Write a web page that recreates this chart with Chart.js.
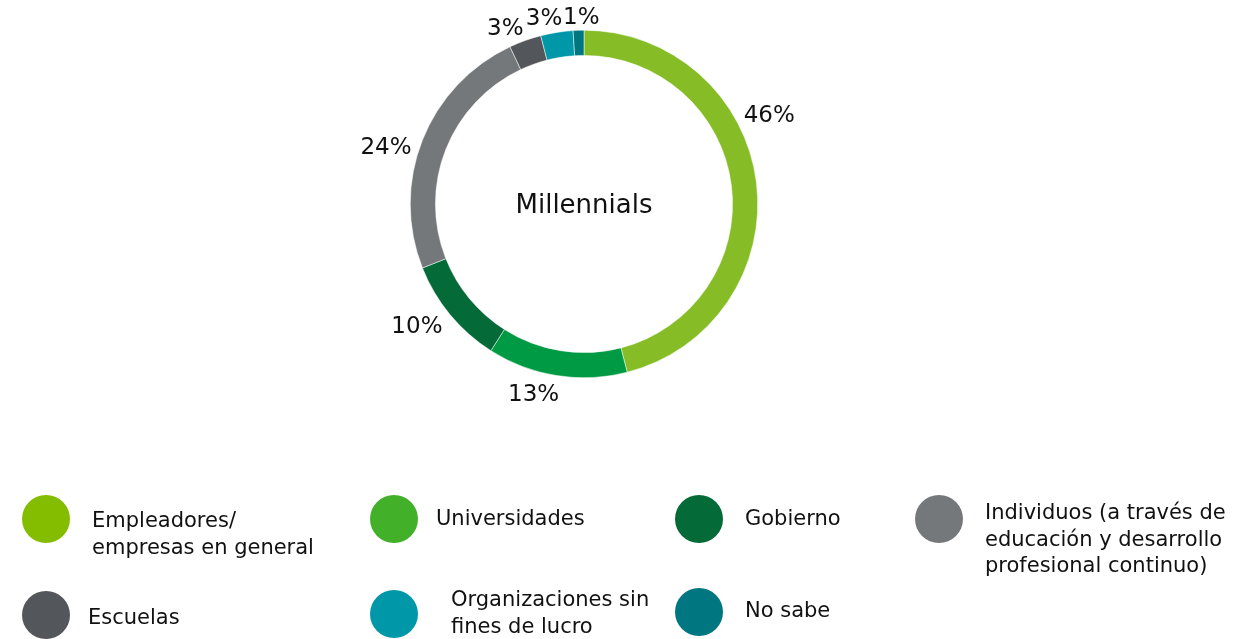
<!DOCTYPE html>
<html>
<head>
<meta charset="utf-8">
<script src="https://cdn.jsdelivr.net/npm/chart.js@4"></script>
<style>
  html, body { margin: 0; padding: 0; background: #fff; }
  body { width: 1260px; height: 639px; position: relative; overflow: hidden; font-family: "DejaVu Sans", Verdana, sans-serif; color: #111; }
  #chart { position: absolute; left: 0; top: 0; }
  .dot { position: absolute; width: 48px; height: 48px; border-radius: 50%; }
  .txt { position: absolute; font-size: 21px; line-height: 26.5px; white-space: nowrap; }
</style>
</head>
<body>
<canvas id="chart" width="1260" height="639"></canvas>
<div id="legend"></div>
<script>
// Data
const categories = [
    'Empleadores/\nempresas en general',
    'Universidades',
    'Gobierno',
    'Individuos (a través de\neducación y desarrollo\nprofesional continuo)',
    'Escuelas',
    'Organizaciones sin\nfines de lucro',
    'No sabe'
];
const shares = [46, 13, 10, 24, 3, 3, 1];
const ringColors = ['#86BC25', '#009A44', '#046A38', '#75787B', '#53565A', '#0097A9', '#007680'];
const legendColors = ['#84BC00', '#43B02A', '#046A38', '#75787B', '#53565A', '#0097A9', '#007680'];
const centerTitle = 'Millennials';

// Legend layout: [circle cx, circle cy, text left, text top]
const legendSpots = [
    [46, 519, 92, 507],
    [394, 519, 436, 505],
    [699, 519, 745, 505],
    [939, 519, 985, 499],
    [46, 615, 88, 604],
    [394, 614, 451, 586],
    [699, 612, 745, 597]
];

const legend = document.getElementById('legend');
categories.forEach((name, i) => {
    const [cx, cy, tx, ty] = legendSpots[i];
    const dot = document.createElement('div');
    dot.className = 'dot';
    dot.style.left = (cx - 24) + 'px';
    dot.style.top = (cy - 24) + 'px';
    dot.style.background = legendColors[i];
    legend.appendChild(dot);
    const txt = document.createElement('div');
    txt.className = 'txt';
    txt.style.left = tx + 'px';
    txt.style.top = ty + 'px';
    txt.innerHTML = name.split('\n').join('<br>');
    legend.appendChild(txt);
});

// Outside labels placed from the arc elements
const outsideLabels = {
    id: 'outsideLabels',
    afterDatasetsDraw(chart, args, opts) {
        const ctx = chart.ctx;
        const meta = chart.getDatasetMeta(0);
        ctx.save();
        ctx.font = '23px "DejaVu Sans", Verdana, sans-serif';
        ctx.fillStyle = '#111';
        ctx.textAlign = 'center';
        ctx.textBaseline = 'middle';
        meta.data.forEach((arc, i) => {
            const p = arc.getProps(['x', 'y', 'startAngle', 'endAngle', 'outerRadius'], true);
            const nudge = (opts.nudge[i] || 0) * Math.PI / 180;
            const mid = (p.startAngle + p.endAngle) / 2 + nudge;
            const label = shares[i] + '%';
            const w = ctx.measureText(label).width;
            const h = 17;
            const dx = Math.cos(mid), dy = Math.sin(mid);
            const d = p.outerRadius + opts.gap + Math.abs(dx) * w / 2 + Math.abs(dy) * h / 2;
            ctx.fillText(label, p.x + dx * d, p.y + dy * d + 3);
        });
        // center title
        const a = meta.data[0];
        ctx.font = '26px "DejaVu Sans", Verdana, sans-serif';
        ctx.fillText(centerTitle, a.x, a.y + 2);
        ctx.restore();
    }
};

new Chart(document.getElementById('chart'), {
    type: 'doughnut',
    data: {
        labels: categories,
        datasets: [{
            data: shares,
            backgroundColor: ringColors,
            borderColor: '#ffffff',
            borderWidth: 0.5,
            hoverOffset: 0
        }]
    },
    options: {
        responsive: false,
        animation: false,
        cutout: '85.5%',
        layout: { padding: { left: 410, right: 502, top: 30, bottom: 261 } },
        plugins: {
            legend: { display: false },
            tooltip: { enabled: false },
            outsideLabels: { gap: 6, nudge: { 0: -19, 1: 6, 2: 4, 3: -5, 4: -4, 5: -3, 6: 1 } }
        }
    },
    plugins: [outsideLabels]
});
</script>
</body>
</html>
